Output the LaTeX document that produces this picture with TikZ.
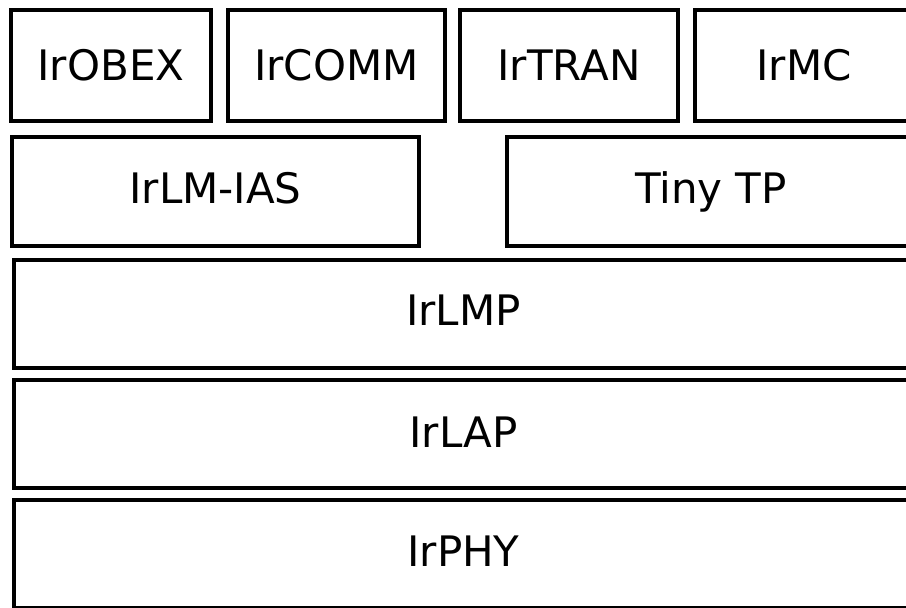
\documentclass[tikz,border=0pt]{standalone}
\usepackage{fontspec}
\setmainfont{DejaVu Sans}
\begin{document}
\begin{tikzpicture}[x=1pt,y=-1pt,
  layer/.style={draw=black, line width=4.8pt, rectangle, inner sep=0pt,
    font=\fontsize{42}{48}\selectfont, text height=30pt, text depth=6pt}]
\useasboundingbox (0,0) rectangle (906,608);
\clip (0,0) rectangle (906,608);
% row 1
\node[layer, minimum width=200pt, minimum height=111pt, text depth=1pt] (obex) at (111,65.5) {IrOBEX};
\node[layer, minimum width=217pt, minimum height=111pt, text depth=1pt] (comm) at (336.5,65.5) {IrCOMM};
\node[layer, minimum width=218pt, minimum height=111pt, text depth=1pt] (tran) at (569,65.5) {IrTRAN};
\node[layer, minimum width=218pt, minimum height=111pt, text depth=1pt] (mc) at (804,65.5) {IrMC};
% row 2
\node[layer, minimum width=407pt, minimum height=109pt, text depth=7pt] (ias) at (215.5,191.5) {IrLM-IAS};
\node[layer, minimum width=408pt, minimum height=109pt, text depth=7pt] (tiny) at (711,191.5) {Tiny TP};
% rows 3-5
\node[layer, minimum width=899pt, minimum height=108pt, text depth=8pt] (lmp) at (463.5,314) {IrLMP};
\node[layer, minimum width=899pt, minimum height=108pt, text depth=4pt] (lap) at (463.5,434) {IrLAP};
\node[layer, minimum width=899pt, minimum height=108pt, text depth=6pt] (phy) at (463.5,554) {IrPHY};
\end{tikzpicture}
\end{document}
